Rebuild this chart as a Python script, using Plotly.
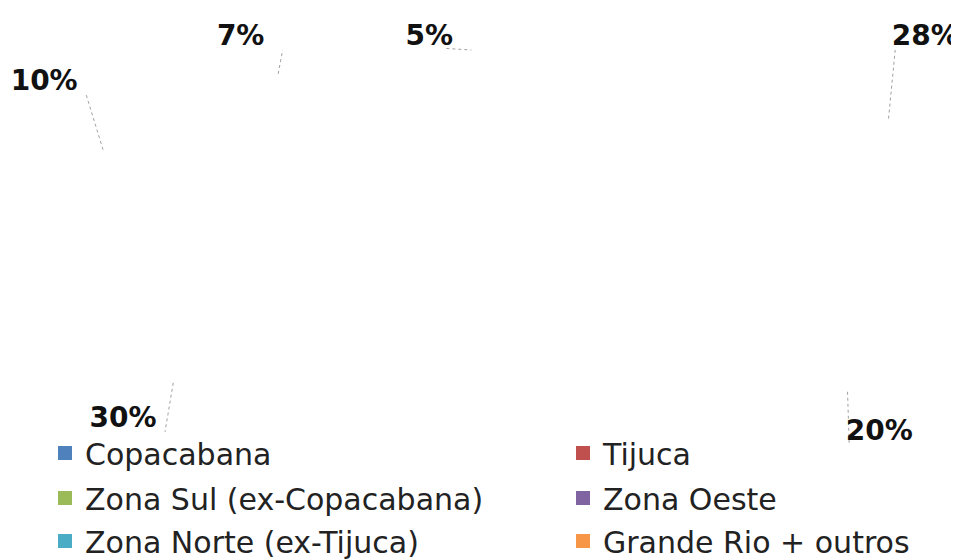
import math
import plotly.graph_objects as go

# ---- data ----
categories = ["Copacabana", "Tijuca", "Zona Sul (ex-Copacabana)", "Zona Oeste",
              "Zona Norte (ex-Tijuca)", "Grande Rio + outros"]
shares = [28, 20, 30, 10, 7, 5]
colors = ["#4F81BD", "#C0504D", "#9BBB59", "#8064A2", "#4BACC6", "#F79646"]

W, H = 959, 559

# geometry of the (stretched, invisible) pie in pixel space
EDGE_CX, EDGE_CY, EDGE_A, EDGE_B = 513, 238, 477, 200
LAB_CX, LAB_CY, LAB_A, LAB_B = 505, 214, 535, 289
LAB_TOP = 30
LAB_HALF_W = 36

total = sum(shares)
cum = 0
mids = []
for v in shares:
    mids.append((cum + v / 2) / total * 2 * math.pi)
    cum += v

lab_x, lab_y, lab_t = [], [], []
line_x, line_y = [], []
for v, t in zip(shares, mids):
    s, c = math.sin(t), math.cos(t)
    lx = LAB_CX + LAB_A * s
    ly = max(LAB_CY - LAB_B * c, LAB_TOP)
    lab_x.append(lx)
    lab_y.append(ly)
    lab_t.append(f"{round(v / total * 100)}%")
    ex = EDGE_CX + EDGE_A * s
    ey = EDGE_CY - EDGE_B * c
    endx = lx + 6 - LAB_HALF_W * (1 if s > 0 else -1)
    line_x += [ex, endx, None]
    line_y += [ey, ly + 12, None]

fig = go.Figure()

# invisible pie (the slices in the reference are rendered blank)
fig.add_trace(go.Pie(
    labels=categories, values=shares, sort=False, direction="clockwise",
    rotation=90, textinfo="none", showlegend=False,
    marker=dict(colors=["rgba(255,255,255,0)"] * len(shares),
                line=dict(width=0)),
    domain=dict(x=[0.3, 0.75], y=[0.22, 0.95]),
    hovertemplate="%{label}: %{percent}<extra></extra>",
))

# leader lines
fig.add_trace(go.Scatter(
    x=line_x, y=line_y, mode="lines", showlegend=False, hoverinfo="skip",
    line=dict(color="#a0a0a0", width=1, dash="dot"),
))

# data labels
fig.add_trace(go.Scatter(
    x=lab_x, y=lab_y, mode="text", text=lab_t, textposition="middle center",
    showlegend=False, hoverinfo="skip", cliponaxis=False,
    textfont=dict(family="DejaVu Sans", size=28, color="#111111", weight="bold"),
))

# legend entries: one small legend per entry, two columns x three rows
legend_names = ["legend", "legend2", "legend3", "legend4", "legend5", "legend6"]
col_x = [37, 555]
row_y = [445, 490, 533]
layout_legends = {}
for i, (name, col) in enumerate(zip(categories, colors)):
    ln = legend_names[i]
    fig.add_trace(go.Scatter(
        x=[None], y=[None], mode="markers", name=name,
        marker=dict(symbol="square", size=14, color=col),
        legend=ln,
    ))
    layout_legends[ln] = dict(
        orientation="v", xanchor="left", yanchor="middle",
        x=col_x[i % 2] / W, y=1 - row_y[i // 2] / H,
        font=dict(family="DejaVu Sans", size=30, color="#222222"),
        bgcolor="rgba(0,0,0,0)", itemclick=False, itemdoubleclick=False,
    )

fig.update_layout(
    width=W, height=H,
    margin=dict(l=0, r=0, t=0, b=0, autoexpand=False),
    paper_bgcolor="white", plot_bgcolor="white",
    xaxis=dict(range=[0, W], visible=False, fixedrange=True),
    yaxis=dict(range=[H, 0], visible=False, fixedrange=True),
    showlegend=True,
    **layout_legends,
)

fig.write_html("out.html")
